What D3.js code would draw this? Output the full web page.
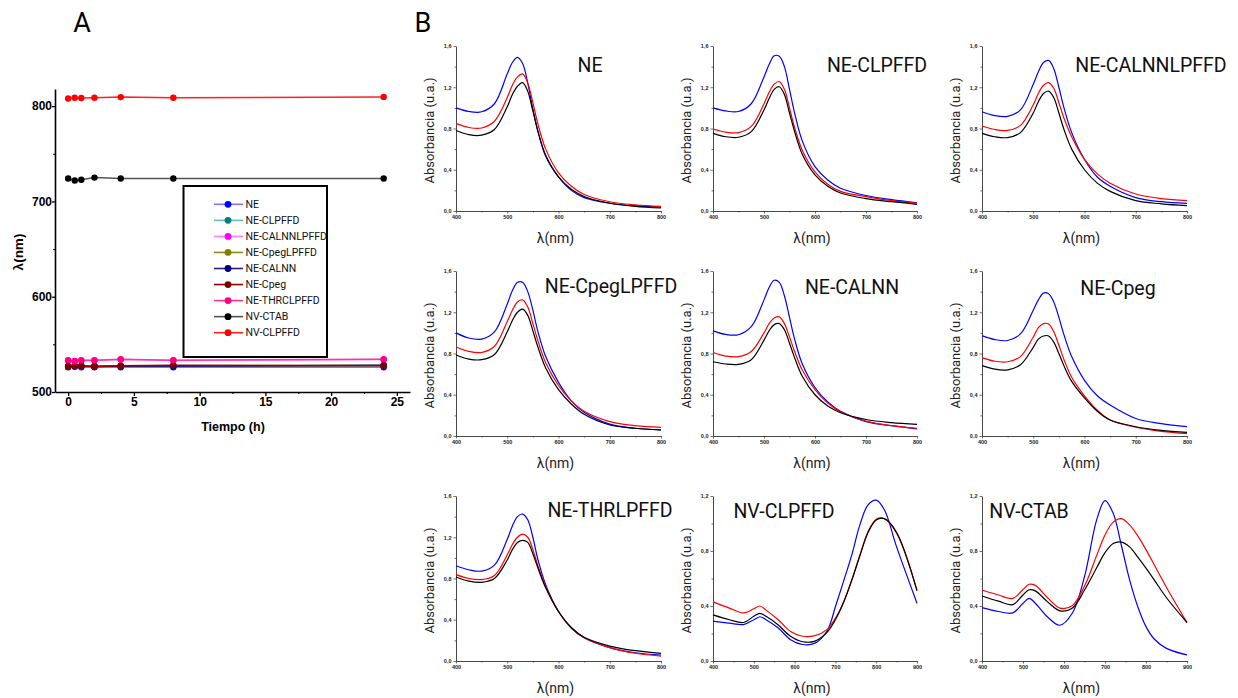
<!DOCTYPE html>
<html><head><meta charset="utf-8">
<script src="https://cdn.jsdelivr.net/npm/d3@7"></script>
<style>body{margin:0;background:#fff} svg{display:block}</style>
</head><body>
<svg id="c" width="1238" height="698"></svg>
<script>
// ---------- Panel A data ----------
const timeH = [0, 0.5, 1, 2, 4, 8, 24];
const seriesNames = ["NE","NE-CLPFFD","NE-CALNNLPFFD","NE-CpegLPFFD","NE-CALNN","NE-Cpeg","NE-THRCLPFFD","NV-CTAB","NV-CLPFFD"];
const dotColors  = ["#0000ff","#008080","#ff00ff","#808000","#000080","#800000","#ff0080","#000000","#ff0000"];
const lineColors = ["#7878ff","#66bbbb","#ff80ff","#8a8a20","#202090","#900000","#ff3399","#555555","#ff2020"];
const lamNE       = [526, 526.5, 526, 526, 526, 526, 526];
const lamNECLPFFD = [527, 527, 527, 527, 527, 527, 527.5];
const lamNECALNNLPFFD = [533, 532.5, 533, 533, 534, 533, 534];
const lamNECpegLPFFD  = [527, 527.5, 527, 527, 527.5, 527.5, 528];
const lamNECALNN  = [527, 527, 527, 527, 527, 527, 528];
const lamNECpeg   = [526.5, 527.5, 527.5, 526.5, 527.5, 528, 527.5];
const lamNETHRCLPFFD = [533.4, 532.3, 533.4, 533.4, 534.4, 533.4, 534.4];
const lamNVCTAB   = [724, 722, 722.8, 725, 724, 724, 724];
const lamNVCLPFFD = [808, 808.8, 808.5, 808.8, 809.5, 808.8, 809.7];
const aXTicks = [0, 5, 10, 15, 20, 25];
const aYTicks = [500, 600, 700, 800];

// ---------- Panel B data ----------
const wlNE = [400,425,450,475,500,510,520,530,540,550,560,575,600,625,650,700,750,800];
const neBlue  = [1.00,0.965,0.962,1.04,1.33,1.44,1.49,1.43,1.24,0.99,0.77,0.53,0.33,0.20,0.13,0.075,0.05,0.04];
const neRed   = [0.85,0.81,0.805,0.87,1.10,1.22,1.30,1.33,1.24,1.05,0.84,0.60,0.37,0.24,0.16,0.09,0.06,0.045];
const neBlack = [0.78,0.74,0.735,0.79,1.01,1.13,1.21,1.245,1.16,0.97,0.77,0.54,0.33,0.21,0.14,0.075,0.045,0.03];

const clpBlue  = [1.00,0.97,0.965,1.04,1.30,1.42,1.505,1.50,1.40,1.18,0.95,0.68,0.43,0.30,0.22,0.15,0.11,0.08];
const clpRed   = [0.795,0.765,0.76,0.82,1.04,1.15,1.23,1.255,1.18,1.00,0.81,0.59,0.38,0.26,0.19,0.14,0.10,0.075];
const clpBlack = [0.753,0.72,0.715,0.77,0.98,1.09,1.18,1.205,1.13,0.95,0.77,0.55,0.35,0.24,0.175,0.12,0.09,0.065];

const calpBlue  = [0.963,0.925,0.918,0.98,1.23,1.35,1.44,1.46,1.38,1.20,1.00,0.76,0.50,0.33,0.24,0.13,0.09,0.074];
const calpRed   = [0.824,0.79,0.782,0.83,1.03,1.14,1.22,1.245,1.19,1.05,0.90,0.72,0.50,0.36,0.27,0.165,0.12,0.10];
const calpBlack = [0.753,0.72,0.712,0.76,0.95,1.06,1.14,1.163,1.10,0.95,0.79,0.60,0.40,0.27,0.19,0.10,0.07,0.052];

const cplBlue  = [1.00,0.95,0.94,1.01,1.28,1.41,1.49,1.49,1.40,1.22,1.01,0.77,0.52,0.34,0.23,0.115,0.075,0.058];
const cplRed   = [0.863,0.82,0.81,0.87,1.11,1.22,1.30,1.32,1.25,1.09,0.92,0.71,0.49,0.34,0.24,0.14,0.10,0.084];
const cplBlack = [0.785,0.745,0.74,0.79,1.01,1.12,1.20,1.23,1.17,1.02,0.86,0.66,0.45,0.31,0.21,0.107,0.075,0.06];

const calBlue  = [1.02,0.985,0.982,1.06,1.32,1.44,1.51,1.49,1.36,1.15,0.94,0.70,0.47,0.33,0.24,0.14,0.10,0.07];
const calRed   = [0.81,0.775,0.77,0.82,1.00,1.09,1.145,1.155,1.09,0.96,0.82,0.64,0.45,0.32,0.235,0.145,0.10,0.075];
const calBlack = [0.72,0.698,0.695,0.74,0.93,1.02,1.08,1.09,1.03,0.90,0.76,0.58,0.40,0.29,0.225,0.16,0.13,0.113];

const cpgBlue  = [0.973,0.935,0.926,0.99,1.22,1.32,1.385,1.38,1.30,1.15,0.98,0.77,0.54,0.39,0.30,0.17,0.12,0.09];
const cpgRed   = [0.76,0.725,0.72,0.77,0.96,1.05,1.09,1.085,1.01,0.88,0.74,0.57,0.39,0.25,0.155,0.085,0.045,0.023];
const cpgBlack = [0.682,0.648,0.642,0.69,0.86,0.94,0.97,0.97,0.91,0.80,0.68,0.53,0.37,0.24,0.155,0.09,0.055,0.036];

const thrBlue  = [0.924,0.885,0.872,0.93,1.18,1.31,1.40,1.425,1.37,1.20,0.98,0.74,0.48,0.32,0.225,0.13,0.08,0.058];
const thrRed   = [0.837,0.80,0.79,0.83,1.03,1.13,1.20,1.23,1.20,1.08,0.92,0.72,0.48,0.32,0.225,0.13,0.075,0.048];
const thrBlack = [0.815,0.775,0.763,0.80,0.98,1.08,1.15,1.17,1.15,1.04,0.90,0.71,0.48,0.325,0.23,0.145,0.10,0.074];

const wlNV = [400,440,475,500,515,530,560,590,620,650,680,700,720,740,760,780,800,820,850,900];
const nvcBlue  = [0.29,0.275,0.265,0.30,0.322,0.30,0.24,0.155,0.12,0.13,0.22,0.395,0.58,0.77,0.99,1.135,1.17,1.10,0.83,0.42];
const nvcRed   = [0.43,0.385,0.35,0.38,0.40,0.37,0.30,0.215,0.18,0.185,0.23,0.31,0.43,0.59,0.77,0.94,1.03,1.035,0.93,0.516];
const nvcBlack = [0.335,0.30,0.28,0.325,0.347,0.325,0.262,0.18,0.14,0.145,0.21,0.30,0.425,0.585,0.765,0.935,1.025,1.035,0.935,0.51];

const ctBlue  = [0.388,0.36,0.35,0.42,0.455,0.42,0.32,0.26,0.347,0.613,1.03,1.166,1.074,0.84,0.59,0.395,0.25,0.16,0.092,0.044];
const ctRed   = [0.516,0.48,0.455,0.52,0.558,0.55,0.46,0.385,0.402,0.545,0.77,0.916,1.01,1.035,0.99,0.91,0.81,0.70,0.535,0.28];
const ctBlack = [0.473,0.435,0.41,0.48,0.518,0.51,0.43,0.365,0.383,0.516,0.68,0.788,0.855,0.865,0.83,0.755,0.675,0.59,0.46,0.28];

const panelTitles = ["NE","NE-CLPFFD","NE-CALNNLPFFD","NE-CpegLPFFD","NE-CALNN","NE-Cpeg","NE-THRLPFFD","NV-CLPFFD","NV-CTAB"];
const absTicksNE = [0,0.4,0.8,1.2,1.6];
const absTicksNV = [0,0.4,0.8,1.2];
const wlTicksNE = [400,500,600,700,800];
const wlTicksNV = [400,500,600,700,800,900];

// ---------- drawing ----------
const svg = d3.select('#c');
const F = "'Roboto','Liberation Sans',sans-serif";
const FA = "'Liberation Sans',Arial,sans-serif";

// Panel letters
svg.append('text').attr('x',82).attr('y',32).attr('text-anchor','middle')
  .attr('font-family',F).attr('font-size',27).text('A');
svg.append('text').attr('x',423).attr('y',32).attr('text-anchor','middle')
  .attr('font-family',F).attr('font-size',27).text('B');

// ---- Panel A ----
const ax = d3.scaleLinear().domain([-1,26]).range([55,410]);
const ay = d3.scaleLinear().domain([500,818]).range([392,89]);
const gA = svg.append('g');

const xMinor = gA.append('g').attr('transform','translate(0,392)')
  .call(d3.axisBottom(ax).tickValues([2.5,7.5,12.5,17.5,22.5]).tickSize(2).tickSizeOuter(0).tickFormat(''));
xMinor.select('.domain').remove();
xMinor.selectAll('line').attr('stroke-width',1.2);
const xA = gA.append('g').attr('transform','translate(0,392)')
  .call(d3.axisBottom(ax).tickValues(aXTicks).tickSize(4).tickSizeOuter(0).tickPadding(1));
const yA = gA.append('g').attr('transform','translate(55,0)')
  .call(d3.axisLeft(ay).tickValues(aYTicks).tickSize(3).tickSizeOuter(0).tickPadding(0));
[xA,yA].forEach(a=>{
  a.selectAll('text').attr('font-family',FA).attr('font-weight','bold').attr('font-size',12).attr('fill','#000');
  a.select('.domain').attr('stroke-width',1.6);
  a.selectAll('line').attr('stroke-width',1.3);
});
const yMinor = gA.append('g').attr('transform','translate(55,0)')
  .call(d3.axisLeft(ay).tickValues([550,650,750]).tickSize(2).tickFormat(''));
yMinor.select('.domain').remove();

gA.append('text').attr('x',233).attr('y',431).attr('text-anchor','middle')
  .attr('font-family',FA).attr('font-weight','bold').attr('font-size',12.5).text('Tiempo (h)');
gA.append('text').attr('transform','translate(23,252) rotate(-90)').attr('text-anchor','middle')
  .attr('font-family',FA).attr('font-weight','bold').attr('font-size',13.5).text('λ(nm)');

const seriesVals = [lamNE,lamNECLPFFD,lamNECALNNLPFFD,lamNECpegLPFFD,lamNECALNN,lamNECpeg,lamNETHRCLPFFD,lamNVCTAB,lamNVCLPFFD];
const lineA = d3.line().x((d,i)=>ax(timeH[i])).y(d=>ay(d));
seriesVals.forEach((vals,si)=>{
  gA.append('path').attr('d',lineA(vals)).attr('fill','none')
    .attr('stroke',lineColors[si]).attr('stroke-width',1.5);
  gA.selectAll(null).data(vals).enter().append('circle')
    .attr('cx',(d,i)=>ax(timeH[i])).attr('cy',d=>ay(d)).attr('r',3.2)
    .attr('fill',dotColors[si]);
});

// legend
const lg = gA.append('g');
lg.append('rect').attr('x',183.5).attr('y',186).attr('width',143.5).attr('height',171)
  .attr('fill','#fff').attr('stroke','#000').attr('stroke-width',2);
seriesNames.forEach((n,i)=>{
  const y = 204.3 + i*16.05;
  lg.append('line').attr('x1',214).attr('x2',243).attr('y1',y).attr('y2',y)
    .attr('stroke',lineColors[i]).attr('stroke-width',1.6);
  lg.append('circle').attr('cx',228).attr('cy',y).attr('r',3.4).attr('fill',dotColors[i]);
  lg.append('text').attr('x',245.5).attr('y',y+3.7).attr('font-family',F)
    .attr('font-size',10.5).attr('fill','#111').text(n);
});

// ---- Panel B ----
const colX = [[456,661],[713,917],[982,1187]];
const rowY = [[46,211],[271,436],[496,661]];
const titlePos = [[590,72],[877,72],[1151,72],[611,293],[852,294],[1118,295],[610,517],[784,518],[1029,518]];
const panelCurves = [
  [neBlue,neRed,neBlack],[clpBlue,clpRed,clpBlack],[calpBlue,calpRed,calpBlack],
  [cplBlue,cplRed,cplBlack],[calBlue,calRed,calBlack],[cpgBlue,cpgRed,cpgBlack],
  [thrBlue,thrRed,thrBlack],[nvcBlue,nvcRed,nvcBlack],[ctBlue,ctRed,ctBlack]
];
const curveColors = ['#0000ff','#ff0000','#000000'];
const fmt = d => d.toFixed(1).replace('.',',');

panelTitles.forEach((t,pi)=>{
  const c = pi%3, r = Math.floor(pi/3);
  const isNV = pi>=7;
  const wl = isNV ? wlNV : wlNE;
  const xs = d3.scaleLinear().domain(isNV?[400,900]:[400,800]).range(colX[c]);
  const ys = d3.scaleLinear().domain(isNV?[0,1.2]:[0,1.6]).range([rowY[r][1],rowY[r][0]]);
  const g = svg.append('g');
  const ticksY = isNV ? absTicksNV : absTicksNE;
  const ticksX = isNV ? wlTicksNV : wlTicksNE;
  const minorY = isNV ? [0.2,0.6,1.0] : [0.2,0.6,1.0,1.4];
  const minorX = isNV ? [450,550,650,750,850] : [450,550,650,750];

  const mx = g.append('g').attr('transform',`translate(0,${rowY[r][1]})`)
    .call(d3.axisBottom(xs).tickValues(minorX).tickSize(1.5).tickFormat(''));
  const my = g.append('g').attr('transform',`translate(${colX[c][0]},0)`)
    .call(d3.axisLeft(ys).tickValues(minorY).tickSize(1.5).tickFormat(''));
  [mx,my].forEach(a=>{a.select('.domain').remove(); a.selectAll('line').attr('stroke-width',0.6);});

  const xa = g.append('g').attr('transform',`translate(0,${rowY[r][1]})`)
    .call(d3.axisBottom(xs).tickValues(ticksX).tickSize(2.5).tickSizeOuter(0).tickPadding(2));
  const ya = g.append('g').attr('transform',`translate(${colX[c][0]},0)`)
    .call(d3.axisLeft(ys).tickValues(ticksY).tickFormat(fmt).tickSize(2.5).tickSizeOuter(0).tickPadding(2));
  [xa,ya].forEach(a=>{
    a.select('.domain').attr('stroke','#333').attr('stroke-width',0.9);
    a.selectAll('line').attr('stroke','#333').attr('stroke-width',0.7);
    a.selectAll('text').attr('font-family',FA).attr('font-weight','bold').attr('font-size',5.5).attr('fill','#222');
  });

  const line = d3.line().x((d,i)=>xs(wl[i])).y(d=>ys(d)).curve(d3.curveCatmullRom.alpha(0.5));
  panelCurves[pi].forEach((vals,k)=>{
    g.append('path').attr('d',line(vals)).attr('fill','none')
      .attr('stroke',curveColors[k]).attr('stroke-width',1.2);
  });

  g.append('text').attr('x',titlePos[pi][0]).attr('y',titlePos[pi][1]).attr('text-anchor','middle')
    .attr('font-family',F).attr('font-size',19.5).attr('fill','#111').text(t);
  const midY = (rowY[r][0]+rowY[r][1])/2 + 2;
  g.append('text').attr('transform',`translate(${colX[c][0]-22},${midY}) rotate(-90)`)
    .attr('text-anchor','middle').attr('font-family',F).attr('font-size',13).attr('fill','#222')
    .text('Absorbancia (u.a.)');
  const midX = (colX[c][0]+colX[c][1])/2 - 3;
  g.append('text').attr('x',midX).attr('y',rowY[r][1] + 32).attr('text-anchor','middle')
    .attr('font-family',F).attr('font-size',14).attr('fill','#222').text('λ(nm)');
});
</script></body></html>
